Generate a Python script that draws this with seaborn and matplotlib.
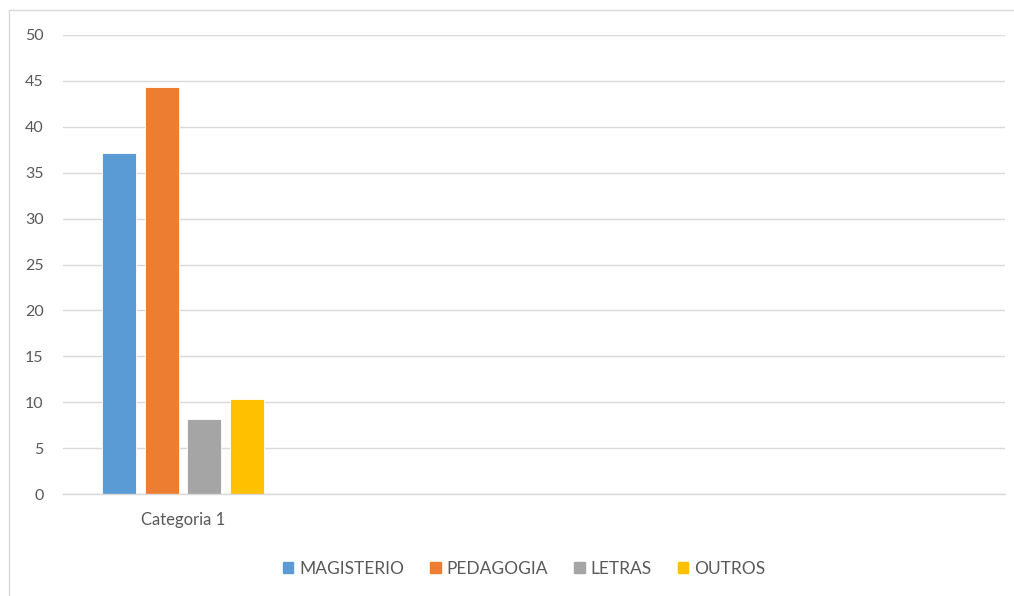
import matplotlib
matplotlib.use("Agg")
import matplotlib.pyplot as plt
import seaborn as sns
import pandas as pd
from matplotlib.patches import Rectangle

categories = ["Categoria 1"]
series = ["MAGISTERIO", "PEDAGOGIA", "LETRAS", "OUTROS"]
values = [37.2, 44.3, 8.2, 10.3]
colors = ["#5B9BD5", "#ED7D31", "#A5A5A5", "#FFC000"]
yticks = [0, 5, 10, 15, 20, 25, 30, 35, 40, 45, 50]

df = pd.DataFrame({"cat": categories * len(series), "serie": series, "val": values})

sns.set_theme(style="white")
plt.rcParams["font.family"] = ["Lato", "DejaVu Sans"]

fig = plt.figure(figsize=(10.14, 5.96), dpi=100)
ax = fig.add_axes([63 / 1014, 102 / 596, 942 / 1014, 459 / 596])

sns.barplot(data=df, x="cat", y="val", hue="serie", hue_order=series,
            palette=colors, width=0.71, gap=0.2, ax=ax, legend=False,
            edgecolor="white", linewidth=0.6, saturation=1)

ax.set_ylim(0, 50)
ax.set_xlim(-0.5, 942 / 240 - 0.5)
ax.set_yticks(yticks)
ax.set_yticklabels([str(t) for t in yticks])
ax.yaxis.grid(True, color="#d9d9d9", linewidth=1)
ax.set_axisbelow(True)
for s in ["top", "right", "left"]:
    ax.spines[s].set_visible(False)
ax.spines["bottom"].set_color("#d9d9d9")
ax.spines["bottom"].set_linewidth(1)
ax.tick_params(axis="y", length=0, pad=14, labelsize=11.5, labelcolor="#595959")
ax.tick_params(axis="x", length=0, pad=13, labelsize=12, labelcolor="#595959")
ax.set_xlabel("")
ax.set_ylabel("")

handles = [Rectangle((0, 0), 1, 1, color=c) for c in colors]
fig.legend(handles, series, loc="center", bbox_to_anchor=(524 / 1014, 1 - 569 / 596),
           ncol=4, frameon=False, fontsize=12.5, labelcolor="#595959",
           handlelength=0.6, handleheight=0.6, handletextpad=0.35, columnspacing=1.5)

fig.patches.append(Rectangle((9 / 1014, -0.01), 1.05, 1 - 10 / 596 + 0.01,
                             transform=fig.transFigure, fill=False,
                             edgecolor="#d9d9d9", linewidth=1))

fig.savefig("out.png", dpi=100)
